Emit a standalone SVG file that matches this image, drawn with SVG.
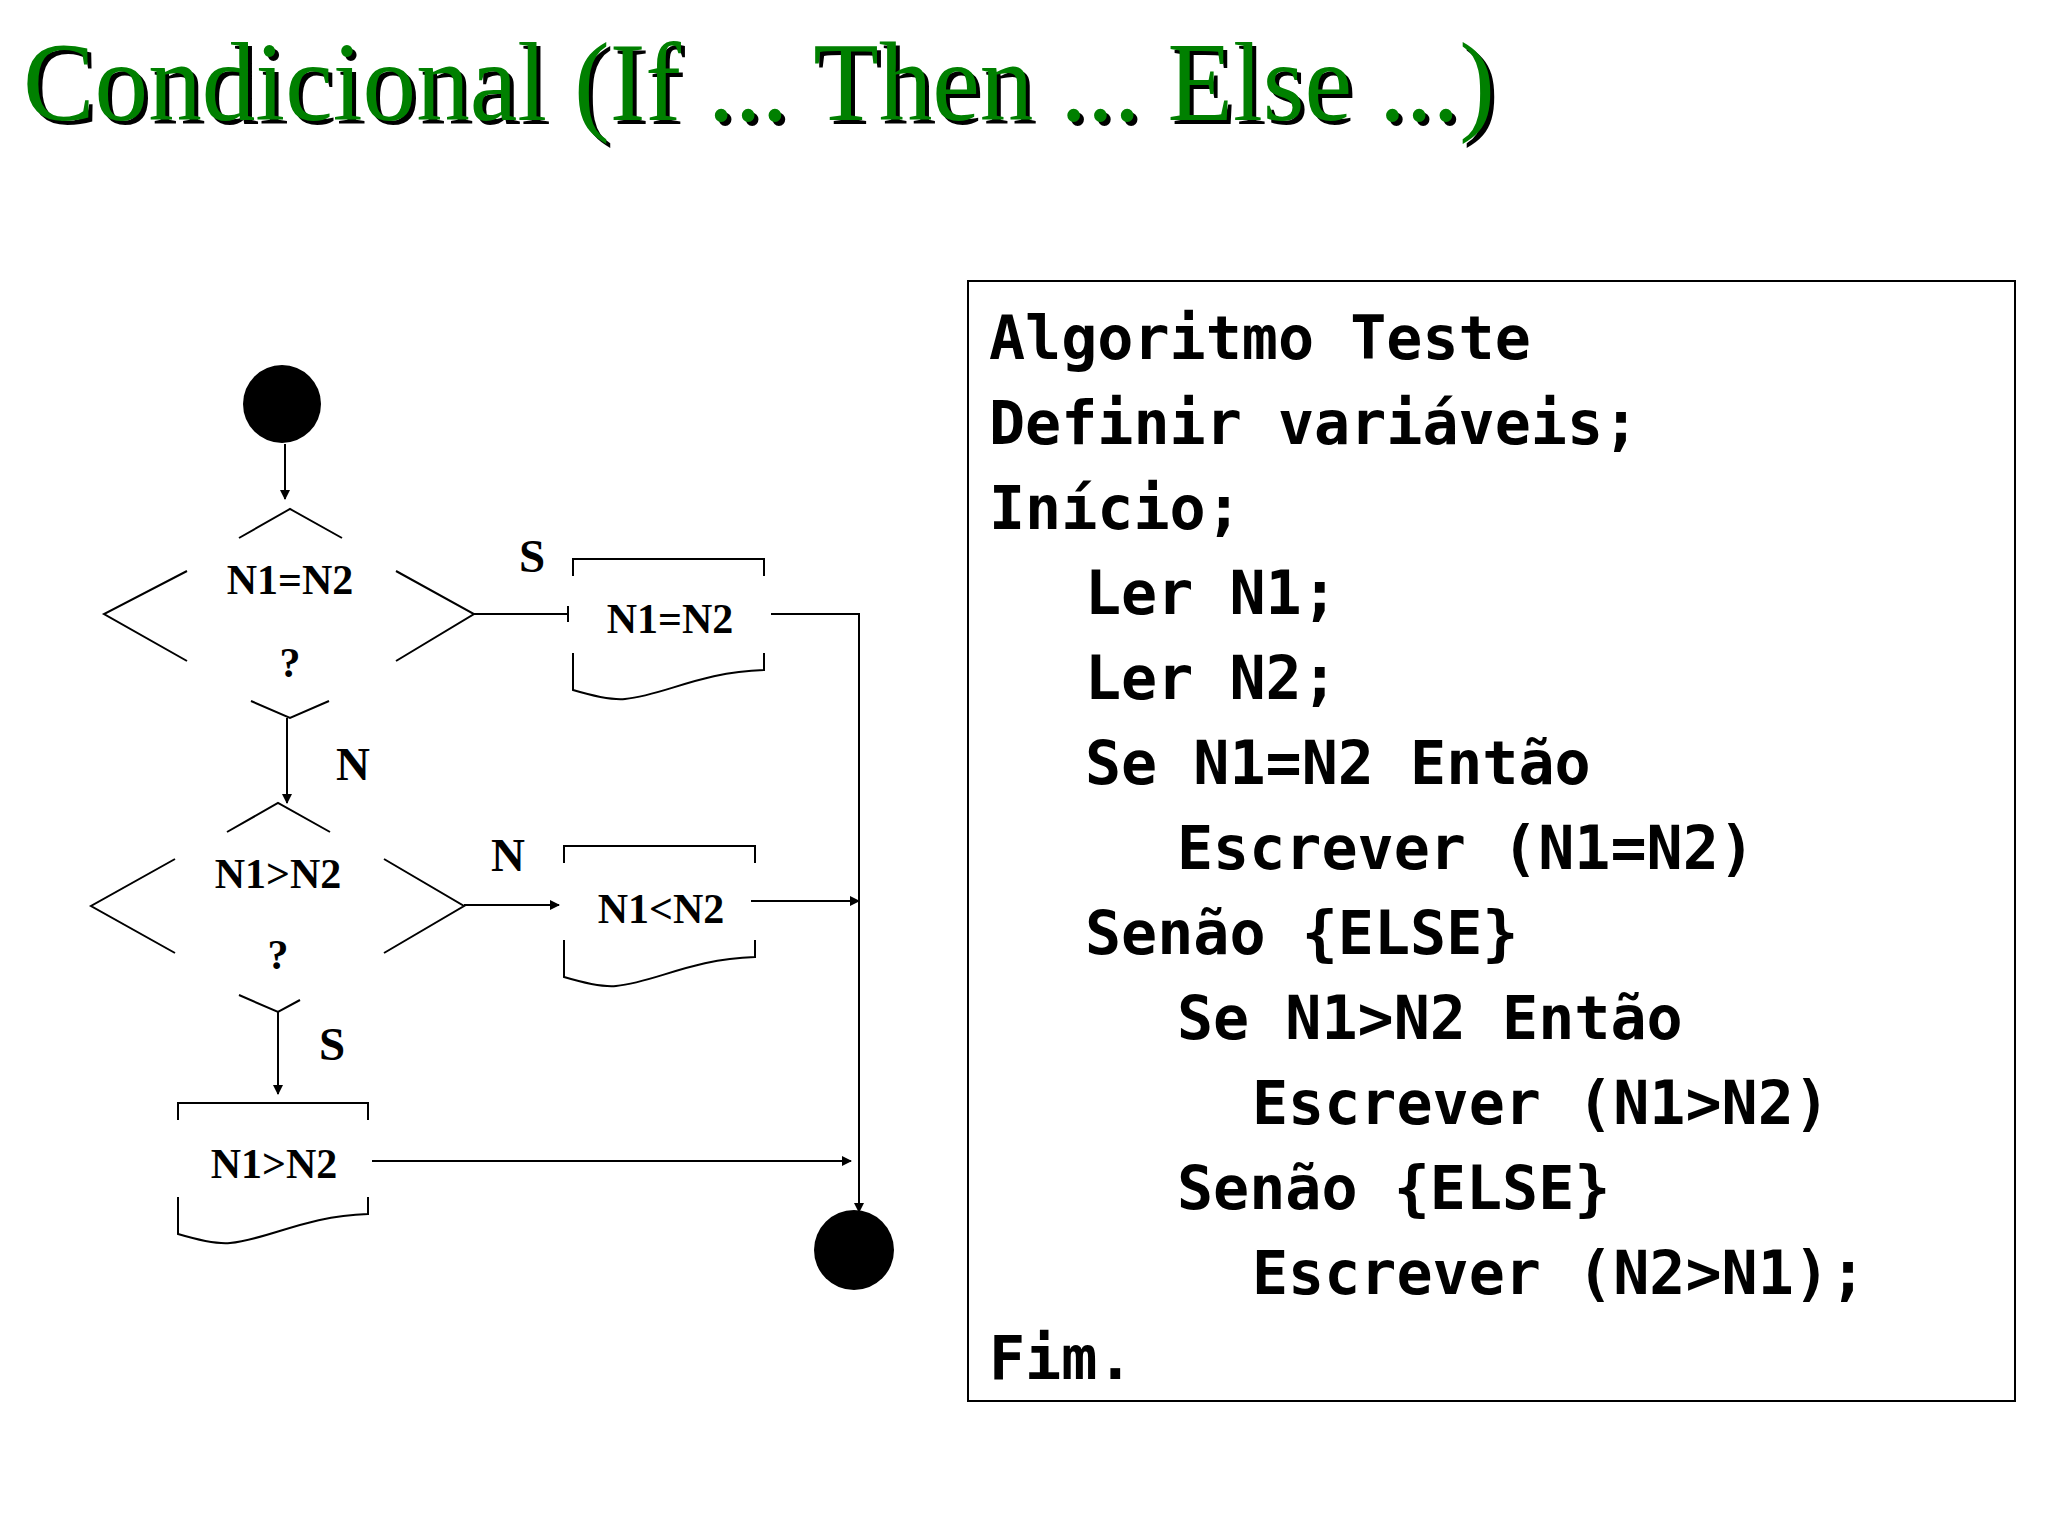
<svg xmlns="http://www.w3.org/2000/svg" width="2048" height="1536" viewBox="0 0 2048 1536">
<defs>
<marker id="ah" markerWidth="10" markerHeight="10" refX="9" refY="5" orient="auto" markerUnits="userSpaceOnUse"><path d="M0,0 L10,5 L0,10 z" fill="#000"/></marker>
<style>
.ln{fill:none;stroke:#000;stroke-width:2}
.lb{font-family:"Liberation Serif",serif;font-weight:bold;font-size:42px;text-anchor:middle}
.lg{font-family:"Liberation Serif",serif;font-weight:bold;font-size:47px;text-anchor:middle}
.code{font-family:"DejaVu Sans Mono",monospace;font-weight:bold;font-size:60px}
</style>
</defs>
<rect width="2048" height="1536" fill="#fff"/>
<g id="title" font-family="Liberation Serif,serif" font-size="112">
<text x="27" y="124" fill="#000" textLength="1472" lengthAdjust="spacingAndGlyphs">Condicional (If ... Then ... Else ...)</text>
<text x="23" y="120" fill="#008000" textLength="1472" lengthAdjust="spacingAndGlyphs">Condicional (If ... Then ... Else ...)</text>
</g>
<g id="start"><circle cx="282" cy="404" r="39" fill="#000"/></g>
<g id="d1">
<path class="ln" d="M239,538 L290,509 L342,538 M187,571 L104,614 L187,661 M396,571 L474,614 L396,661 M251,701 L290,718 L329,701"/>
<text class="lb" x="290" y="594">N1=N2</text><text class="lb" x="290" y="677">?</text>
</g>
<g id="d2">
<path class="ln" d="M227,832 L278,803 L330,832 M175,859 L91,906 L175,953 M384,859 L464,906 L384,953 M239,995 L278,1012 L300,1000"/>
<text class="lb" x="278" y="888">N1&gt;N2</text><text class="lb" x="278" y="969">?</text>
</g>
<g id="doc1">
<path class="ln" d="M573,576 V559 H764 V576 M573,653 V690 C600,698 615,700 625,699 C665,695 700,672 764,670 V653"/>
<text class="lb" x="670" y="633">N1=N2</text>
</g>
<g id="doc2">
<path class="ln" d="M564,863 V846 H755 V863 M564,940 V977 C591,985 606,987 616,986 C656,982 691,959 755,957 V940"/>
<text class="lb" x="661" y="923">N1&lt;N2</text>
</g>
<g id="doc3">
<path class="ln" d="M178,1120 V1103 H368 V1120 M178,1197 V1234 C205,1242 220,1244 230,1243 C270,1239 305,1216 368,1214 V1197"/>
<text class="lb" x="274" y="1178">N1&gt;N2</text>
</g>
<g id="end"><circle cx="854" cy="1250" r="40" fill="#000"/></g>
<g id="connectors">
<path class="ln" d="M285,444 V499" marker-end="url(#ah)"/>
<path class="ln" d="M474,614 H568 M568,606 V622"/>
<path class="ln" d="M771,614 H859 V1212" marker-end="url(#ah)"/>
<path class="ln" d="M287,718 V803" marker-end="url(#ah)"/>
<path class="ln" d="M464,905 H559" marker-end="url(#ah)"/>
<path class="ln" d="M751,901 H859" marker-end="url(#ah)"/>
<path class="ln" d="M278,1012 V1094" marker-end="url(#ah)"/>
<path class="ln" d="M372,1161 H851" marker-end="url(#ah)"/>
<text class="lg" x="532" y="572">S</text>
<text class="lg" x="353" y="780">N</text>
<text class="lg" x="508" y="871">N</text>
<text class="lg" x="332" y="1060">S</text>
</g>
<g id="code">
<rect x="968" y="281" width="1047" height="1120" fill="#fff" stroke="#000" stroke-width="2"/>
<text class="code" x="989" y="359">Algoritmo Teste</text>
<text class="code" x="989" y="444">Definir variáveis;</text>
<text class="code" x="989" y="529">Início;</text>
<text class="code" x="1085" y="614">Ler N1;</text>
<text class="code" x="1085" y="699">Ler N2;</text>
<text class="code" x="1085" y="784">Se N1=N2 Então</text>
<text class="code" x="1177" y="869">Escrever (N1=N2)</text>
<text class="code" x="1085" y="954">Senão {ELSE}</text>
<text class="code" x="1177" y="1039">Se N1&gt;N2 Então</text>
<text class="code" x="1252" y="1124">Escrever (N1&gt;N2)</text>
<text class="code" x="1177" y="1209">Senão {ELSE}</text>
<text class="code" x="1252" y="1294">Escrever (N2&gt;N1);</text>
<text class="code" x="989" y="1379">Fim.</text>
</g>
</svg>
